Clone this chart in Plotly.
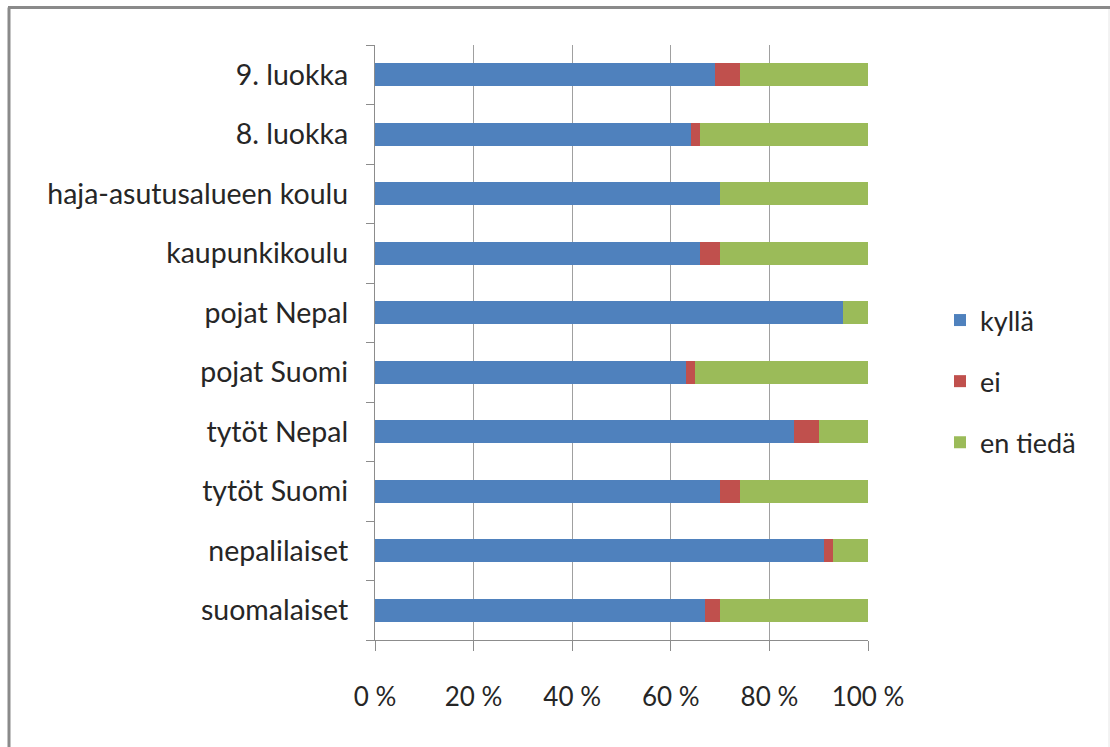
import plotly.graph_objects as go

categories = ["suomalaiset", "nepalilaiset", "tytöt Suomi", "tytöt Nepal", "pojat Suomi",
              "pojat Nepal", "kaupunkikoulu", "haja-asutusalueen koulu", "8. luokka", "9. luokka"]
kylla = [67, 91, 70, 85, 63, 95, 66, 70, 64, 69]
ei = [3, 2, 4, 5, 2, 0, 4, 0, 2, 5]
en_tieda = [30, 7, 26, 10, 35, 5, 30, 30, 34, 26]
series_names = ["kyllä", "ei", "en tiedä"]
colors = ["#4F81BD", "#C0504D", "#9BBB59"]
tick_vals = [0, 20, 40, 60, 80, 100]
tick_text = ["0 %", "20 %", "40 %", "60 %", "80 %", "100 %"]

FONT = "Lato"
fig = go.Figure()
for name, vals, col in zip(series_names, [kylla, ei, en_tieda], colors):
    fig.add_trace(go.Bar(y=categories, x=vals, name=name, orientation="h",
                         marker=dict(color=col, line=dict(width=0)),
                         legendgroup=name))

W, H = 1110, 747
L, R, T, B = 375, 868, 45, 640
fig.update_layout(
    width=W, height=H, barmode="stack", bargap=0.61,
    margin=dict(l=L, r=W - R, t=T, b=H - B),
    paper_bgcolor="white", plot_bgcolor="white",
    font=dict(family=FONT, size=28, color="#262626"),
    legend=dict(x=(940 - L) / (R - L), y=(640 - 296) / (B - T), xanchor="left", yanchor="top",
                traceorder="grouped", tracegroupgap=23, font=dict(size=27),
                itemwidth=30),
    xaxis=dict(range=[0, 100], tickvals=tick_vals, ticktext=tick_text,
               tickfont=dict(size=26),
               showgrid=True, gridcolor="#A0A0A0", gridwidth=1.3,
               showline=True, linecolor="#8C8C8C", linewidth=1.3,
               ticks="outside", ticklen=10, tickcolor="#8C8C8C", tickwidth=1.3,
               ticklabelstandoff=24, zeroline=False, fixedrange=True),
    yaxis=dict(categoryorder="array", categoryarray=categories,
               tickfont=dict(size=28.5),
               showline=True, linecolor="#8C8C8C", linewidth=1.3,
               ticks="outside", ticklen=8, tickcolor="#8C8C8C", tickwidth=1.3,
               tickson="boundaries", ticklabelstandoff=20, showgrid=False,
               fixedrange=True),
)

def px(x):
    return (x - L) / (R - L)

def py(y):
    return (B - y) / (B - T)

fig.add_shape(type="line", xref="paper", yref="paper", x0=px(8), x1=px(1110), y0=py(7.5), y1=py(7.5),
              line=dict(color="#8A8A8A", width=3))
fig.add_shape(type="line", xref="paper", yref="paper", x0=px(9), x1=px(9), y0=py(7.5), y1=py(760),
              line=dict(color="#8A8A8A", width=3))
fig.add_shape(type="line", xref="paper", yref="paper", x0=px(1109), x1=px(1109), y0=py(9), y1=py(760),
              line=dict(color="#E6E6E6", width=1))

fig.write_html("out.html", config={"displayModeBar": False},
               post_script="document.body.style.margin='0';document.body.style.padding='0';")
